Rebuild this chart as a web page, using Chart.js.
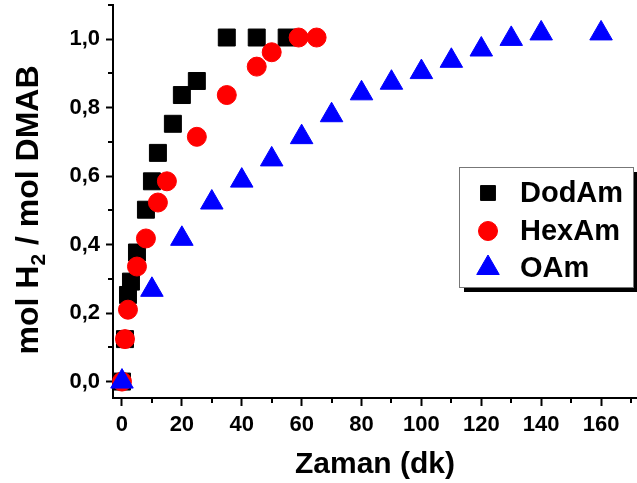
<!DOCTYPE html>
<html lang="tr">
<head>
  <meta charset="UTF-8" />
  <title>mol H2 / mol DMAB vs Zaman</title>
  <script src="https://cdn.jsdelivr.net/npm/chart.js"></script>
  <style>
    body {
      margin: 0;
      background: #fff;
    }
    canvas {
      display: block;
    }
  </style>
</head>
<body>
  <canvas id="h2Chart" width="637" height="483"></canvas>
  <script>
const FONT = '"Liberation Sans", Arial, sans-serif';

// DodAm
const dodAmX = [0, 1, 2, 3, 5, 8, 10, 12, 17, 20, 25, 35, 45, 55];
const dodAmY = [0, 0.124, 0.253, 0.292, 0.377, 0.502, 0.585, 0.668, 0.753, 0.837, 0.878, 1.005, 1.005, 1.005];

// HexAm
const hexAmX = [0, 1, 2, 5, 8, 12, 15, 25, 35, 45, 50, 59, 65];
const hexAmY = [0, 0.124, 0.21, 0.336, 0.418, 0.523, 0.585, 0.715, 0.837, 0.92, 0.962, 1.005, 1.005];

// OAm
const oAmX = [0, 10, 20, 30, 40, 50, 60, 70, 80, 90, 100, 110, 120, 130, 140, 160];
const oAmY = [0, 0.268, 0.417, 0.523, 0.587, 0.649, 0.714, 0.778, 0.842, 0.873, 0.904, 0.937, 0.97, 1.001, 1.017, 1.017];

// minor tick positions
const xMinor = [10, 30, 50, 70, 90, 110, 130, 150, 170];
const yMinor = [0.1, 0.3, 0.5, 0.7, 0.9, 1.1];

const toPoints = (xs, ys) => xs.map((x, i) => ({ x: x, y: ys[i] }));

const series = [
  { label: 'DodAm', data: toPoints(dodAmX, dodAmY), color: '#000000', style: 'rect', radius: 12, order: 3 },
  { label: 'HexAm', data: toPoints(hexAmX, hexAmY), color: '#ff0000', style: 'circle', radius: 9.5, order: 2 },
  { label: 'OAm', data: toPoints(oAmX, oAmY), color: '#0000ff', style: 'triangle', radius: 13, order: 1 }
];

// small ticks between the labelled ones
const minorTicks = {
  id: 'minorTicks',
  afterDraw(chart) {
    const ctx = chart.ctx;
    const xs = chart.scales.x, ys = chart.scales.y;
    const area = chart.chartArea;
    ctx.save();
    ctx.strokeStyle = '#000';
    ctx.lineWidth = 2;
    ctx.beginPath();
    xMinor.forEach(v => {
      const px = Math.round(xs.getPixelForValue(v));
      ctx.moveTo(px, area.bottom);
      ctx.lineTo(px, area.bottom + 5);
    });
    yMinor.forEach(v => {
      const py = Math.round(ys.getPixelForValue(v));
      ctx.moveTo(area.left, py);
      ctx.lineTo(area.left - 5, py);
    });
    ctx.stroke();
    ctx.restore();
  }
};

// y title with subscript 2
const yTitle = {
  id: 'yTitle',
  afterDraw(chart) {
    const ctx = chart.ctx;
    const big = 'bold 32px ' + FONT;
    const small = 'bold 21px ' + FONT;
    ctx.save();
    ctx.fillStyle = '#000';
    ctx.textBaseline = 'alphabetic';
    ctx.textAlign = 'left';
    ctx.font = big;
    const w1 = ctx.measureText('mol H').width;
    const w3 = ctx.measureText(' / mol DMAB').width;
    ctx.font = small;
    const w2 = ctx.measureText('2').width;
    const total = w1 + w2 + w3;
    ctx.translate(38, 210);
    ctx.rotate(-Math.PI / 2);
    let x = -total / 2;
    ctx.font = big;
    ctx.fillText('mol H', x, 0);
    x += w1;
    ctx.font = small;
    ctx.fillText('2', x, 7);
    x += w2;
    ctx.font = big;
    ctx.fillText(' / mol DMAB', x, 0);
    ctx.restore();
  }
};

// boxed legend with drop shadow
const boxLegend = {
  id: 'boxLegend',
  afterDraw(chart) {
    const ctx = chart.ctx;
    const bx = 459, by = 167, bw = 174, bh = 120;
    ctx.save();
    ctx.fillStyle = '#000';
    ctx.fillRect(bx + 5, by + 5, bw, bh);
    ctx.fillStyle = '#fff';
    ctx.fillRect(bx, by, bw, bh);
    ctx.strokeStyle = '#777';
    ctx.lineWidth = 1;
    ctx.strokeRect(bx + 0.5, by + 0.5, bw, bh);
    const rows = [193, 231, 268];
    series.forEach((s, i) => {
      ctx.fillStyle = s.color;
      ctx.strokeStyle = s.color;
      Chart.helpers.drawPoint(ctx, {
        pointStyle: s.style,
        radius: s.style === 'rect' ? 10.5 : s.radius,
        borderWidth: 1,
        rotation: 0
      }, 488, rows[i]);
      ctx.fillStyle = '#000';
      ctx.font = 'bold 29px ' + FONT;
      ctx.textBaseline = 'middle';
      ctx.textAlign = 'left';
      ctx.fillText(s.label, 520, rows[i] + 1);
    });
    ctx.restore();
  }
};

const tickFont = { family: FONT, size: 22, weight: 'bold' };

new Chart(document.getElementById('h2Chart').getContext('2d'), {
  type: 'scatter',
  data: {
    datasets: series.map(s => ({
      label: s.label,
      data: s.data,
      pointStyle: s.style,
      pointRadius: s.radius,
      pointBackgroundColor: s.color,
      pointBorderColor: s.color,
      pointBorderWidth: 1,
      showLine: false,
      clip: false,
      order: s.order
    }))
  },
  options: {
    responsive: false,
    animation: false,
    layout: { autoPadding: false, padding: { top: 5, right: 0, left: 0, bottom: 0 } },
    plugins: {
      legend: { display: false },
      tooltip: { enabled: false }
    },
    scales: {
      x: {
        type: 'linear',
        min: -3,
        max: 172,
        ticks: {
          stepSize: 20,
          includeBounds: false,
          maxRotation: 0,
          padding: 6,
          color: '#000',
          font: tickFont,
          callback: v => String(v)
        },
        grid: { drawOnChartArea: false, tickLength: 8, tickWidth: 2, tickColor: '#000' },
        border: { color: '#000', width: 2 },
        title: {
          display: true,
          text: 'Zaman (dk)',
          color: '#000',
          font: { family: FONT, size: 30, weight: 'bold' },
          padding: { top: 7, bottom: 0 }
        },
        afterFit(scale) {
          scale.height = 85;
          scale.paddingLeft = 0;
          scale.paddingRight = 0;
        }
      },
      y: {
        min: -0.048,
        max: 1.1,
        ticks: {
          stepSize: 0.2,
          includeBounds: false,
          padding: 6,
          color: '#000',
          font: tickFont,
          callback: v => v.toFixed(1).replace('.', ',')
        },
        grid: { drawOnChartArea: false, tickLength: 7, tickWidth: 2, tickColor: '#000' },
        border: { color: '#000', width: 2 },
        afterFit(scale) {
          scale.width = 113;
          scale.paddingTop = 0;
          scale.paddingBottom = 0;
        }
      }
    }
  },
  plugins: [minorTicks, yTitle, boxLegend]
});
  </script>
</body>
</html>
